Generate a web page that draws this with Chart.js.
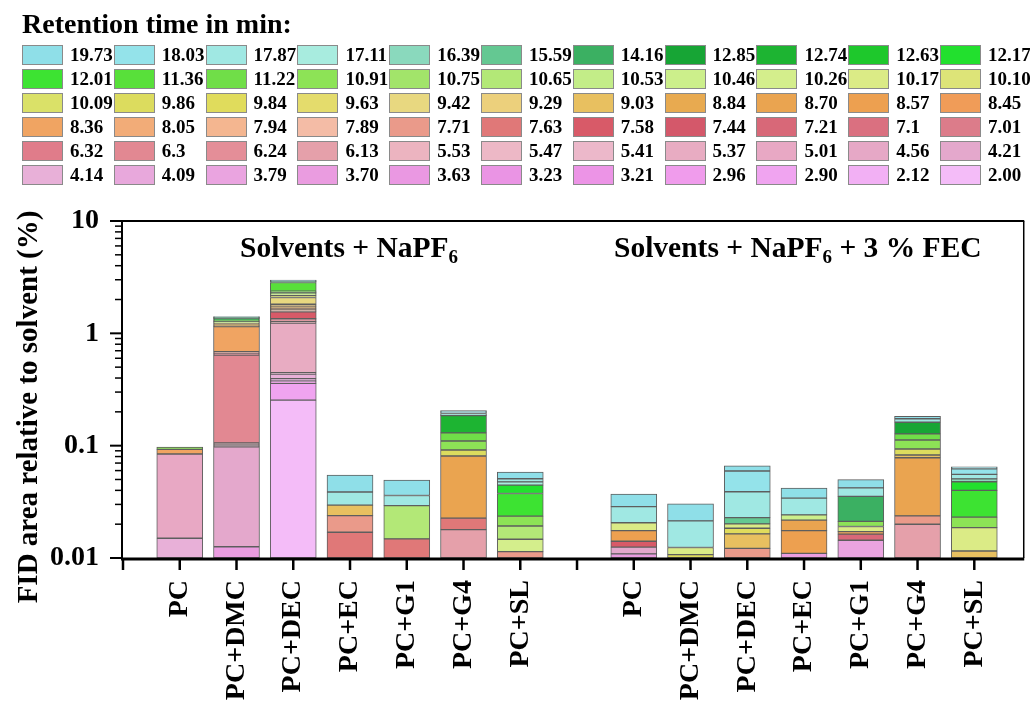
<!DOCTYPE html>
<html>
<head>
<meta charset="utf-8">
<script src="https://cdn.jsdelivr.net/npm/chart.js@4.4.1/dist/chart.umd.min.js"></script>
<style>
  html, body { margin: 0; padding: 0; background: #fff; }
  #wrap { position: relative; width: 1030px; height: 706px; overflow: hidden; }
  #chart { position: absolute; left: 0; top: 0; }
  .lg { position: absolute; font-family: "Liberation Serif", "Times New Roman", serif; font-weight: bold; color: #000; white-space: nowrap; }
  .sw { position: absolute; box-sizing: border-box; border: 1px solid #8a8a8a; width: 41px; height: 20px; }
  .lt { font-size: 19px; line-height: 20px; }
  #lgTitle { font-size: 28px; left: 22px; top: 8px; line-height: 32px; }
</style>
</head>
<body>
<div id="wrap">
  <canvas id="chart" width="1030" height="706"></canvas>
  <div id="lgTitle" class="lg">Retention time in min:</div>
</div>
<script>
// Retention times (min), in legend order, and their swatch colours
const retentionTimes = [
  '19.73','18.03','17.87','17.11','16.39','15.59','14.16','12.85','12.74','12.63','12.17',
  '12.01','11.36','11.22','10.91','10.75','10.65','10.53','10.46','10.26','10.17','10.10',
  '10.09','9.86','9.84','9.63','9.42','9.29','9.03','8.84','8.70','8.57','8.45',
  '8.36','8.05','7.94','7.89','7.71','7.63','7.58','7.44','7.21','7.1','7.01',
  '6.32','6.3','6.24','6.13','5.53','5.47','5.41','5.37','5.01','4.56','4.21',
  '4.14','4.09','3.79','3.70','3.63','3.23','3.21','2.96','2.90','2.12','2.00'
];
const swatchColors = [
  '#8fdfe8','#94e3ea','#a0e8e3','#a8ecdf','#8ad9bd','#64c892','#3bb062','#17a535','#1db432','#1ec82c','#22e02e',
  '#3de332','#58e03a','#70de48','#8de356','#a2e46a','#b3e877','#c3ed88','#ccef8b','#d4ee8c','#dbeb86','#dde478',
  '#dae168','#dcdc5e','#e0dc5c','#e4dc6c','#e8d880','#ecd07c','#e8c060','#e8aa50','#eaa450','#eda050','#f09c58',
  '#f0a462','#f2ac78','#f4b690','#f4bca6','#ea9a8a','#e07878','#d85a68','#d4586a','#d86878','#da7080','#dc7c8a',
  '#e07c8a','#e28892','#e48e98','#e5a0aa','#ecb4c0','#edb8c6','#ecb8ca','#e8acc2','#e8a8c4','#e6a8c6','#e4a8cc',
  '#e8b0d8','#e8a8dc','#eaa4e0','#ea9ce0','#ea98e2','#ea94e4','#ec94e6','#f09cec','#f0a4f0','#f2b0f4','#f4bcf8'
];

const categories = ['PC', 'PC+DMC', 'PC+DEC', 'PC+EC', 'PC+G1', 'PC+G4', 'PC+SL'];
const yTickLabels = ['0.01', '0.1', '1', '10'];

// FID area relative to solvent (%), per retention time, bottom of the stack first
// Solvents + NaPF6
const naPF6_PC  = [['4.14',0.015],['5.01',0.0693],['8.36',0.0084],['10.91',0.0046]];
const naPF6_DMC = [['3.70',0.0126],['4.21',0.0848],['5.37',0.004],['6.13',0.0042],['6.3',0.534],['7.21',0.025],
                   ['7.71',0.0215],['8.36',0.461],['8.84',0.038],['9.03',0.05],['10.46',0.036],['11.36',0.04],
                   ['12.85',0.04],['14.16',0.03],['17.87',0.028]];
const naPF6_DEC = [['2.00',0.254],['2.90',0.104],['3.21',0.012],['3.63',0.012],['3.79',0.012],['4.14',0.039],
                   ['4.56',0.0127],['5.37',0.790],['6.13',0.04],['6.3',0.04],['7.01',0.037],['7.58',0.203],
                   ['7.89',0.06],['8.45',0.06],['8.84',0.07],['9.03',0.069],['9.42',0.269],['10.10',0.1],
                   ['10.46',0.06],['10.91',0.06],['11.22',0.067],['11.36',0.465],['14.16',0.05],['17.87',0.046],['19.73',0.04]];
const naPF6_EC  = [['7.63',0.01696],['7.71',0.0069],['9.03',0.0057],['17.87',0.0091],['19.73',0.0161]];
const naPF6_G1  = [['7.63',0.01478],['10.65',0.0145],['17.87',0.0067],['19.73',0.0134]];
const naPF6_G4  = [['6.13',0.01789],['7.63',0.00473],['8.70',0.0583],['9.86',0.0106],['10.91',0.0186],['11.22',0.0197],
                   ['12.74',0.0555],['17.87',0.008],['18.03',0.006],['19.73',0.006]];
const naPF6_SL  = [['7.71',0.01138],['10.26',0.0033],['10.65',0.0046],['10.91',0.0043],['12.01',0.0139],['12.17',0.0071],
                   ['17.11',0.003],['17.87',0.0032],['19.73',0.0075]];
// Solvents + NaPF6 + 3 % FEC
const fec_PC  = [['3.70',0.0109],['4.21',0.0016],['7.58',0.0016],['8.57',0.0034],['10.17',0.0031],['17.87',0.0081],['19.73',0.0084]];
const fec_DMC = [['9.84',0.0107],['10.17',0.0017],['17.87',0.009],['19.73',0.009]];
const fec_DEC = [['7.71',0.0122],['9.03',0.0042],['9.84',0.002],['10.17',0.0017],['15.59',0.0028],['17.87',0.016],
                 ['18.03',0.0206],['19.73',0.0068]];
const fec_EC  = [['3.70',0.011],['8.57',0.0065],['8.70',0.0042],['10.46',0.0025],['17.87',0.0099],['19.73',0.0078]];
const fec_G1  = [['3.79',0.01439],['7.21',0.0019],['8.57',0.0009],['10.17',0.0019],['10.91',0.0021],['14.16',0.0142],
                 ['17.87',0.0067],['19.73',0.0078]];
const fec_G4  = [['6.13',0.01999],['7.71',0.0037],['8.70',0.0544],['9.03',0.0045],['9.86',0.0108],['10.91',0.019],
                 ['11.22',0.0148],['12.85',0.0343],['17.87',0.012],['19.73',0.009]];
const fec_SL  = [['9.03',0.01155],['10.17',0.0071],['10.91',0.0045],['12.01',0.0168],['12.17',0.0078],['16.39',0.0028],
                 ['17.87',0.005],['18.03',0.0065],['19.73',0.0026]];

const naPF6Bars = [naPF6_PC, naPF6_DMC, naPF6_DEC, naPF6_EC, naPF6_G1, naPF6_G4, naPF6_SL];
const fecBars   = [fec_PC, fec_DMC, fec_DEC, fec_EC, fec_G1, fec_G4, fec_SL];

// slot 0 and slot 8 stay empty; the two groups fill slots 1-7 and 9-15
const slots = [];
naPF6Bars.forEach((segs, i) => slots.push([i + 1, segs]));
fecBars.forEach((segs, i) => slots.push([i + 2 + categories.length, segs]));

const slotLabel = v => {
  if (v >= 1 && v <= categories.length) return categories[v - 1];
  const j = v - categories.length - 2;
  if (j >= 0 && j < categories.length) return categories[j];
  return '';
};

// one dataset per retention time; earliest eluting species at the bottom of each stack
const datasets = retentionTimes.slice().reverse().map(rt => ({
  label: rt,
  data: slots.flatMap(([x, segs]) => {
    const s = segs.find(p => p[0] === rt);
    return s ? [{ x: x, y: s[1] }] : [];
  }),
  backgroundColor: swatchColors[retentionTimes.indexOf(rt)],
  borderColor: '#5e5e5e',
  borderWidth: 1,
  borderSkipped: false,
  barThickness: 46,
  stack: 'all'
}));

// legend grid (11 columns x 6 rows)
const wrap = document.getElementById('wrap');
retentionTimes.forEach((rt, i) => {
  const r = Math.floor(i / 11), c = i % 11;
  const x = 22 + c * 91.8, y = 45 + r * 24;
  const sw = document.createElement('div');
  sw.className = 'sw';
  sw.style.left = x + 'px';
  sw.style.top = y + 'px';
  sw.style.background = swatchColors[i];
  wrap.appendChild(sw);
  const t = document.createElement('div');
  t.className = 'lg lt';
  t.style.left = (x + 48) + 'px';
  t.style.top = y + 'px';
  t.textContent = rt;
  wrap.appendChild(t);
});

const SERIF = '"Liberation Serif", "Times New Roman", serif';

const decorations = {
  id: 'decorations',
  afterDraw(chart) {
    const ctx = chart.ctx;
    const xs = chart.scales.x, ys = chart.scales.y;
    const L = chart.chartArea.left - 1, R = chart.chartArea.right, T = chart.chartArea.top, B = chart.chartArea.bottom;
    ctx.save();
    ctx.strokeStyle = '#000';
    // frame: top and right
    ctx.lineWidth = 2;
    ctx.beginPath(); ctx.moveTo(L, T); ctx.lineTo(R, T); ctx.stroke();
    ctx.lineWidth = 1.5;
    ctx.beginPath(); ctx.moveTo(R - 0.5, T); ctx.lineTo(R - 0.5, B); ctx.stroke();
    // y axis line and ticks
    ctx.lineWidth = 2;
    ctx.beginPath(); ctx.moveTo(L, T - 1); ctx.lineTo(L, B + 1); ctx.stroke();
    for (let d = -2; d <= 1; d++) {
      const base = Math.pow(10, d);
      const py = ys.getPixelForValue(base);
      ctx.lineWidth = 2;
      ctx.beginPath(); ctx.moveTo(L - 12, py); ctx.lineTo(L, py); ctx.stroke();
      if (d < 1) {
        ctx.lineWidth = 1.5;
        for (let m = 2; m <= 9; m++) {
          const pm = ys.getPixelForValue(m * base);
          ctx.beginPath(); ctx.moveTo(L - 7, pm); ctx.lineTo(L, pm); ctx.stroke();
        }
      }
    }
    // x axis line and ticks
    ctx.lineWidth = 3;
    ctx.beginPath(); ctx.moveTo(L - 1, B + 1); ctx.lineTo(R, B + 1); ctx.stroke();
    ctx.lineWidth = 2.5;
    xs.ticks.forEach(t => {
      const px = xs.getPixelForValue(t.value);
      ctx.beginPath(); ctx.moveTo(px, B); ctx.lineTo(px, B + 12); ctx.stroke();
    });

    // group titles: "Solvents + NaPF6" with a subscript 6, then an optional tail
    ctx.fillStyle = '#000';
    ctx.textBaseline = 'alphabetic';
    ctx.textAlign = 'left';
    const big = 'bold 29.5px ' + SERIF, small = 'bold 19px ' + SERIF;
    const drawTitle = (x, y, tail) => {
      ctx.font = big;
      const a = 'Solvents + NaPF';
      ctx.fillText(a, x, y);
      let cx = x + ctx.measureText(a).width;
      ctx.font = small;
      ctx.fillText('6', cx, y + 6);
      cx += ctx.measureText('6').width;
      if (tail) {
        ctx.font = big;
        ctx.fillText(tail, cx, y);
      }
    };
    drawTitle(240, 257, '');
    drawTitle(614, 257, ' + 3 % FEC');

    // y axis title
    ctx.save();
    ctx.translate(30, 407);
    ctx.rotate(-Math.PI / 2);
    ctx.font = 'bold 29px ' + SERIF;
    ctx.textAlign = 'center';
    ctx.textBaseline = 'middle';
    ctx.fillText('FID area relative to solvent (%)', 0, 0);
    ctx.restore();
    ctx.restore();
  }
};

new Chart(document.getElementById('chart'), {
  type: 'bar',
  data: { datasets },
  options: {
    responsive: false,
    animation: false,
    devicePixelRatio: 1,
    layout: { padding: { top: 221, right: 2, left: 0, bottom: 0 } },
    plugins: { legend: { display: false }, tooltip: { enabled: false } },
    scales: {
      x: {
        type: 'linear',
        min: 0,
        max: 15.88,
        stacked: true,
        offset: false,
        afterBuildTicks: s => { s.ticks = Array.from({ length: 16 }, (_, k) => ({ value: k })); },
        afterFit: s => { s.height = 148; },
        grid: { display: false, drawTicks: false },
        border: { display: false },
        ticks: {
          autoSkip: false,
          minRotation: 90,
          maxRotation: 90,
          padding: 22,
          color: '#000',
          font: { family: SERIF, size: 28, weight: 'bold' },
          callback: v => slotLabel(v)
        }
      },
      y: {
        type: 'logarithmic',
        min: 0.01,
        max: 10,
        stacked: true,
        afterBuildTicks: s => { s.ticks = yTickLabels.map(t => ({ value: parseFloat(t) })); },
        afterFit: s => { s.width = 123; },
        grid: { display: false, drawTicks: false },
        border: { display: false },
        ticks: {
          padding: 24,
          color: '#000',
          font: { family: SERIF, size: 28, weight: 'bold' },
          callback: (v, i) => yTickLabels[i]
        }
      }
    }
  },
  plugins: [decorations]
});
</script>
</body>
</html>
